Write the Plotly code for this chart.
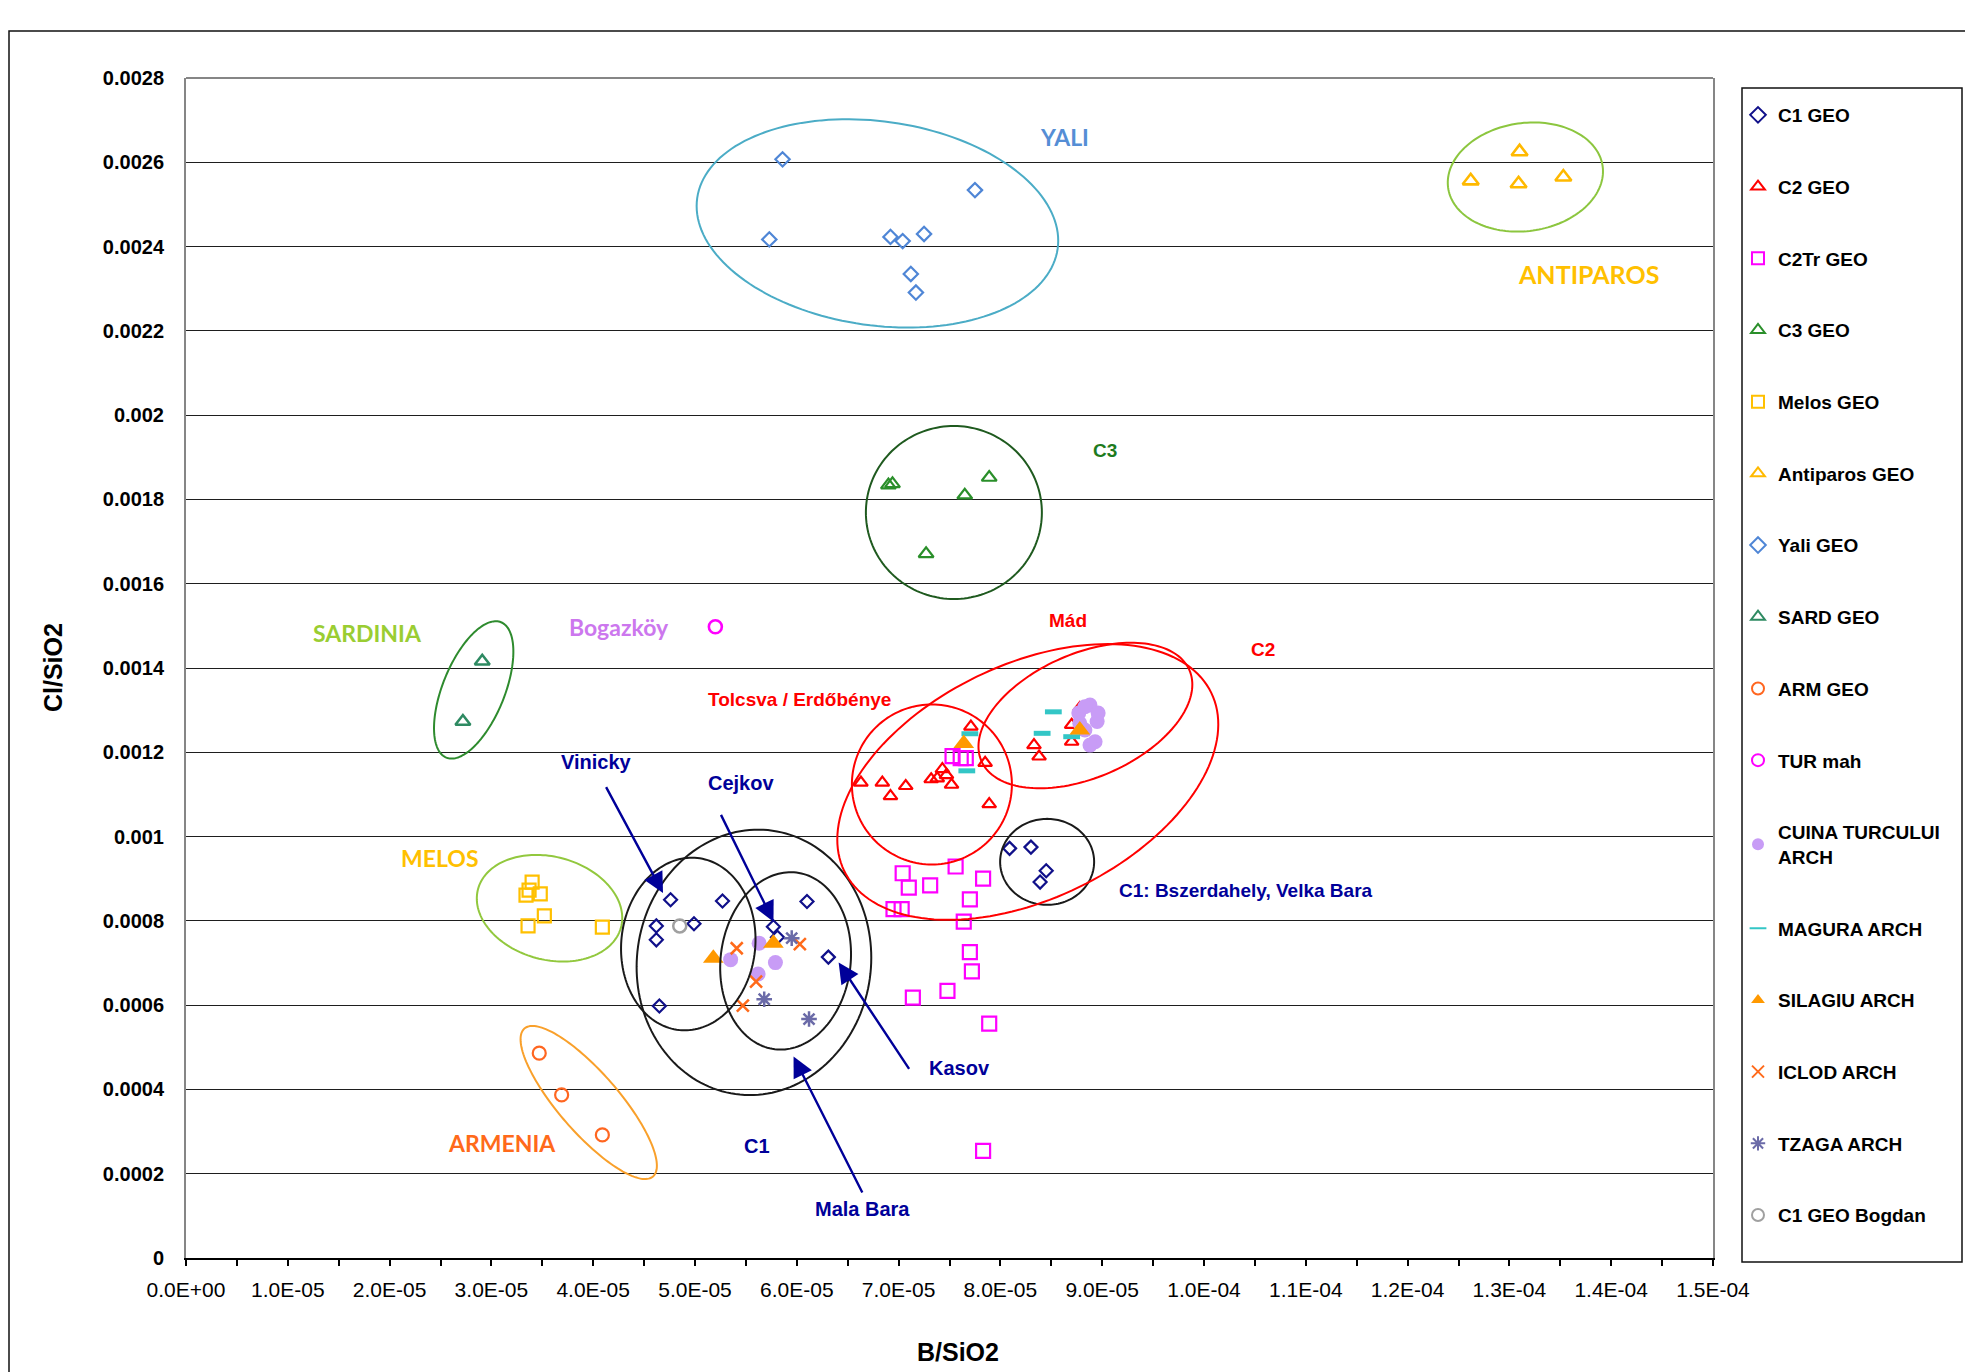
import numpy as np
import plotly.graph_objects as go

# ---------------------------------------------------------------- data
C1_GEO_X = [4.76e-5, 5.27e-5, 6.10e-5, 4.62e-5, 4.99e-5, 4.62e-5, 5.77e-5, 5.81e-5,
            6.31e-5, 4.65e-5, 8.09e-5, 8.30e-5, 8.45e-5, 8.39e-5]
C1_GEO_Y = [0.000850, 0.000847, 0.000846, 0.000788, 0.000793, 0.000755, 0.000786, 0.000761,
            0.000714, 0.000598, 0.000972, 0.000975, 0.000919, 0.000892]

C2_GEO_X = [7.71e-5, 7.85e-5, 6.63e-5, 6.84e-5, 6.92e-5, 7.07e-5, 7.32e-5, 7.38e-5, 7.43e-5,
            7.47e-5, 7.52e-5, 7.89e-5, 8.33e-5, 8.38e-5, 8.70e-5, 8.70e-5, 8.78e-5]
C2_GEO_Y = [0.001261, 0.001175, 0.001128, 0.001128, 0.001096, 0.001120, 0.001136, 0.001138,
            0.001160, 0.001146, 0.001123, 0.001077, 0.001217, 0.001190, 0.001265, 0.001225,
            0.001305]

C2TR_GEO_X = [7.04e-5, 7.10e-5, 7.31e-5, 7.56e-5, 7.83e-5, 7.70e-5, 6.95e-5, 7.03e-5, 7.64e-5,
              7.70e-5, 7.72e-5, 7.48e-5, 7.14e-5, 7.89e-5, 7.83e-5, 7.53e-5, 7.61e-5, 7.66e-5]
C2TR_GEO_Y = [0.000913, 0.000879, 0.000884, 0.000929, 0.000900, 0.000851, 0.000828, 0.000828,
              0.000798, 0.000726, 0.000680, 0.000634, 0.000618, 0.000556, 0.000254, 0.001191,
              0.001186, 0.001186]

C3_GEO_X = [6.90e-5, 6.94e-5, 7.65e-5, 7.89e-5, 7.27e-5]
C3_GEO_Y = [0.001834, 0.001837, 0.001810, 0.001852, 0.001671]

MELOS_GEO_X = [3.40e-5, 3.37e-5, 3.34e-5, 3.48e-5, 3.52e-5, 3.36e-5, 4.09e-5]
MELOS_GEO_Y = [0.000892, 0.000873, 0.000861, 0.000864, 0.000812, 0.000788, 0.000785]

ANTIPAROS_GEO_X = [12.62e-5, 13.10e-5, 13.09e-5, 13.53e-5]
ANTIPAROS_GEO_Y = [0.002556, 0.002625, 0.002549, 0.002565]

YALI_GEO_X = [5.86e-5, 5.73e-5, 6.92e-5, 7.04e-5, 7.25e-5, 7.75e-5, 7.12e-5, 7.17e-5]
YALI_GEO_Y = [0.002607, 0.002417, 0.002423, 0.002413, 0.002430, 0.002534, 0.002335, 0.002291]

SARD_GEO_X = [2.91e-5, 2.72e-5]
SARD_GEO_Y = [0.001416, 0.001273]

ARM_GEO_X = [3.47e-5, 3.69e-5, 4.09e-5]
ARM_GEO_Y = [0.000486, 0.000387, 0.000292]

TUR_MAH_X = [5.20e-5]
TUR_MAH_Y = [0.001498]

CUINA_X = [5.35e-5, 5.63e-5, 5.79e-5, 5.62e-5, 8.88e-5, 8.77e-5, 8.95e-5, 8.83e-5, 8.78e-5,
           8.93e-5, 8.88e-5, 8.96e-5, 8.83e-5]
CUINA_Y = [0.000708, 0.000747, 0.000701, 0.000674, 0.001312, 0.001293, 0.001273, 0.001253,
           0.001269, 0.001225, 0.001217, 0.001293, 0.001308]

MAGURA_X = [7.70e-5, 7.67e-5, 8.52e-5, 8.41e-5, 8.70e-5]
MAGURA_Y = [0.001244, 0.001156, 0.001296, 0.001245, 0.001237]

SILAGIU_X = [5.18e-5, 5.77e-5, 7.64e-5, 8.78e-5]
SILAGIU_Y = [0.000711, 0.000747, 0.001221, 0.001253]

ICLOD_X = [5.41e-5, 6.03e-5, 5.60e-5, 5.47e-5]
ICLOD_Y = [0.000735, 0.000745, 0.000656, 0.000599]

TZAGA_X = [5.95e-5, 5.68e-5, 6.12e-5]
TZAGA_Y = [0.000759, 0.000614, 0.000567]

BOGDAN_X = [4.85e-5]
BOGDAN_Y = [0.000788]

X_TICK_VALUES = [i * 1e-5 for i in range(16)]
X_TICK_LABELS = ["0.0E+00", "1.0E-05", "2.0E-05", "3.0E-05", "4.0E-05", "5.0E-05",
                 "6.0E-05", "7.0E-05", "8.0E-05", "9.0E-05", "1.0E-04", "1.1E-04",
                 "1.2E-04", "1.3E-04", "1.4E-04", "1.5E-04"]
Y_TICK_VALUES = [i * 0.0002 for i in range(15)]
Y_TICK_LABELS = ["0", "0.0002", "0.0004", "0.0006", "0.0008", "0.001", "0.0012", "0.0014",
                 "0.0016", "0.0018", "0.002", "0.0022", "0.0024", "0.0026", "0.0028"]

# ---------------------------------------------------------------- geometry
W, H = 1965, 1372
M_L, M_R, M_T, M_B = 186, 252, 78, 114
X_MAX, Y_MAX = 1.5e-4, 0.0028
PLOT_W = W - M_L - M_R
PLOT_H = H - M_T - M_B
PX_X = PLOT_W / X_MAX
PX_Y = PLOT_H / Y_MAX

ARIAL = "Liberation Sans, Arial, sans-serif"
CALIBRI = "Lato, Carlito, Calibri, sans-serif"
NAVY = "#000099"


def ellipse_path(cx, cy, a_px, b_px, angle_deg, n=160):
    """Closed SVG path (data coordinates) of an ellipse whose semi-axes are
    given in screen pixels and rotated counter-clockwise by angle_deg."""
    t = np.linspace(0, 2 * np.pi, n, endpoint=False)
    th = np.radians(angle_deg)
    dx = a_px * np.cos(t) * np.cos(th) - b_px * np.sin(t) * np.sin(th)
    dy = a_px * np.cos(t) * np.sin(th) + b_px * np.sin(t) * np.cos(th)
    xs = cx + dx / PX_X
    ys = cy + dy / PX_Y
    pts = [f"{x:.11f},{y:.11f}" for x, y in zip(xs, ys)]
    return "M " + " L ".join(pts) + " Z"


fig = go.Figure()


def add_series(name, xs, ys, symbol, color, size, line_width=2.2):
    fig.add_trace(go.Scatter(
        x=xs, y=ys, mode="markers", name=f"<b>{name}</b>",
        legendgroup=name,
        marker=dict(symbol=symbol, color=color, size=size,
                    line=dict(color=color, width=line_width)),
        hoverinfo="x+y+name",
    ))


add_series("C1 GEO", C1_GEO_X, C1_GEO_Y, "diamond-open", "#10108A", 10)
add_series("C2 GEO", C2_GEO_X, C2_GEO_Y, "triangle-up-open", "#FF0000", 12)
add_series("C2Tr GEO", C2TR_GEO_X, C2TR_GEO_Y, "square-open", "#FF00FF", 14)
add_series("C3 GEO", C3_GEO_X, C3_GEO_Y, "triangle-up-open", "#2A8F2A", 13)
add_series("Melos GEO", MELOS_GEO_X, MELOS_GEO_Y, "square-open", "#FFC000", 13)
add_series("Antiparos GEO", ANTIPAROS_GEO_X, ANTIPAROS_GEO_Y, "triangle-up-open", "#FFB900", 14, 2.6)
add_series("Yali GEO", YALI_GEO_X, YALI_GEO_Y, "diamond-open", "#4F86D6", 11)
add_series("SARD GEO", SARD_GEO_X, SARD_GEO_Y, "triangle-up-open", "#2E8A62", 13, 2.6)
add_series("ARM GEO", ARM_GEO_X, ARM_GEO_Y, "circle-open", "#FF6620", 13)
add_series("TUR mah", TUR_MAH_X, TUR_MAH_Y, "circle-open", "#FF00FF", 13, 2.6)
add_series("CUINA TURCULUI<br>ARCH", CUINA_X, CUINA_Y, "circle", "#C89CF6", 15, 0)
add_series("MAGURA ARCH", MAGURA_X, MAGURA_Y, "line-ew-open", "#33C6C6", 12, 5)
add_series("SILAGIU ARCH", SILAGIU_X, SILAGIU_Y, "triangle-up", "#FF9900", 18, 0)
add_series("ICLOD ARCH", ICLOD_X, ICLOD_Y, "x-thin-open", "#FF6A1A", 12, 2.5)
add_series("TZAGA ARCH", TZAGA_X, TZAGA_Y, "asterisk-open", "#6B6BA8", 13, 2.5)
add_series("C1 GEO Bogdan", BOGDAN_X, BOGDAN_Y, "circle-open", "#A0A0A0", 13, 2.5)

# ---------------------------------------------------------------- group outlines
ELLIPSES = [
    # centre x, centre y, semi-axis a (px), semi-axis b (px), rotation (deg), colour
    (6.792e-5, 0.002455, 182, 102, -8, "#4BACC6"),    # Yali
    (13.157e-5, 0.002565, 78, 54, 8, "#8CC63F"),      # Antiparos
    (7.543e-5, 0.001769, 88, 86.5, 0, "#1F5A1F"),     # C3
    (2.826e-5, 0.001348, 73, 31, 68, "#2E8B2E"),      # Sardinia
    (3.571e-5, 0.000830, 74, 51.5, -15, "#92C83E"),   # Melos
    (3.956e-5, 0.000369, 98, 30, -49, "#F9A02B"),     # Armenia
    (4.934e-5, 0.000745, 67, 86.5, -6, "#1A1A1A"),    # Vinicky
    (5.579e-5, 0.0007015, 117, 133, -8, "#1A1A1A"),   # C1
    (5.890e-5, 0.000705, 65, 89, -7, "#1A1A1A"),      # Cejkov / Mala Bara
    (8.459e-5, 0.000940, 47, 43, 0, "#1A1A1A"),       # Bszerdahely, Velka Bara
    (7.327e-5, 0.0011237, 80, 80, 0, "#FF0000"),      # Tolcsva / Erdobenye
    (8.835e-5, 0.0012872, 113.5, 62, 23.6, "#FF0000"),  # Mad
    (8.269e-5, 0.0011296, 204, 117, 25.9, "#FF0000"),   # C2
]

shapes = []
for cx, cy, a, b, ang, col in ELLIPSES:
    shapes.append(dict(type="path", xref="x", yref="y",
                       path=ellipse_path(cx, cy, a, b, ang),
                       line=dict(color=col, width=2), layer="above"))

# plot-area top edge, legend frame and outer chart frame
shapes.append(dict(type="line", xref="paper", yref="paper", x0=0, x1=1, y0=1, y1=1,
                   line=dict(color="#868686", width=2)))


def px_to_paper_x(px):
    return (px - M_L) / PLOT_W


def px_to_paper_y(py):
    return (H - M_B - py) / PLOT_H


shapes.append(dict(type="rect", xref="paper", yref="paper",
                   x0=px_to_paper_x(1742), x1=px_to_paper_x(1962),
                   y0=px_to_paper_y(1262), y1=px_to_paper_y(88),
                   line=dict(color="#111111", width=1.5)))
shapes.append(dict(type="rect", xref="paper", yref="paper",
                   x0=px_to_paper_x(9), x1=px_to_paper_x(1990),
                   y0=px_to_paper_y(1400), y1=px_to_paper_y(31),
                   line=dict(color="#111111", width=1.5)))

# ---------------------------------------------------------------- labels and arrows
LABELS = [
    ("YALI", 8.633e-5, 0.002660, "#558ED5", CALIBRI, 23),
    ("ANTIPAROS", 13.78e-5, 0.002336, "#FFC000", CALIBRI, 25),
    ("C3", 9.03e-5, 0.001917, "#1E7B1E", ARIAL, 19),
    ("SARDINIA", 1.784e-5, 0.001483, "#9ACD32", CALIBRI, 23),
    ("Bogazköy", 4.25e-5, 0.001498, "#CC77EE", CALIBRI, 23),
    ("Tolcsva / Erdőbénye", 6.03e-5, 0.001326, "#FF0000", ARIAL, 19),
    ("Mád", 8.66e-5, 0.001513, "#FF0000", ARIAL, 19),
    ("C2", 10.58e-5, 0.001445, "#FF0000", ARIAL, 19),
    ("Vinicky", 4.036e-5, 0.001176, NAVY, ARIAL, 20),
    ("Cejkov", 5.453e-5, 0.001127, NAVY, ARIAL, 20),
    ("MELOS", 2.497e-5, 0.000949, "#FFC000", CALIBRI, 23),
    ("C1: Bszerdahely, Velka Bara", 10.41e-5, 0.000871, NAVY, ARIAL, 19),
    ("Kasov", 7.6e-5, 0.000452, NAVY, ARIAL, 20),
    ("ARMENIA", 3.104e-5, 0.000273, "#FF6A1A", CALIBRI, 23),
    ("C1", 5.611e-5, 0.000265, NAVY, ARIAL, 20),
    ("Mala Bara", 6.645e-5, 0.000116, NAVY, ARIAL, 20),
]

# (tip x, tip y, tail x, tail y)
ARROWS = [
    (4.686e-5, 0.000866, 4.119e-5, 0.001121),   # Vinicky
    (5.771e-5, 0.000798, 5.248e-5, 0.001055),   # Cejkov
    (6.411e-5, 0.000701, 7.113e-5, 0.000445),   # Kasov
    (5.968e-5, 0.000478, 6.651e-5, 0.000152),   # Mala Bara
]

annotations = []
for text, x, y, col, fam, size in LABELS:
    annotations.append(dict(x=x, y=y, xref="x", yref="y", text=text, showarrow=False,
                            font=dict(family=fam, size=size, color=col, weight="bold"),
                            xanchor="center", yanchor="middle"))
for tx, ty, sx, sy in ARROWS:
    annotations.append(dict(x=tx, y=ty, ax=sx, ay=sy, xref="x", yref="y",
                            axref="x", ayref="y", text="", showarrow=True,
                            arrowhead=2, arrowsize=1.7, arrowwidth=2.4,
                            arrowcolor=NAVY, standoff=0, startstandoff=0))

annotations.append(dict(x=px_to_paper_x(958), y=px_to_paper_y(1352), xref="paper",
                        yref="paper", text="B/SiO2", showarrow=False,
                        font=dict(family=ARIAL, size=25, color="#000000", weight="bold"),
                        xanchor="center", yanchor="middle"))
annotations.append(dict(x=px_to_paper_x(53), y=px_to_paper_y(668), xref="paper",
                        yref="paper", text="Cl/SiO2", showarrow=False, textangle=-90,
                        font=dict(family=ARIAL, size=25, color="#000000", weight="bold"),
                        xanchor="center", yanchor="middle"))

# ---------------------------------------------------------------- layout
fig.update_layout(
    width=W, height=H,
    margin=dict(l=M_L, r=M_R, t=M_T, b=M_B, autoexpand=False),
    paper_bgcolor="#FFFFFF", plot_bgcolor="#FFFFFF",
    showlegend=True,
    legend=dict(
        x=px_to_paper_x(1738), y=px_to_paper_y(96), xanchor="left", yanchor="top",
        traceorder="grouped", tracegroupgap=44, itemsizing="constant",
        bgcolor="rgba(0,0,0,0)", borderwidth=0, maxheight=1372,
        font=dict(family=ARIAL, size=19, color="#000000"),
    ),
    xaxis=dict(
        range=[0, X_MAX], tickmode="array", tickvals=X_TICK_VALUES, ticktext=X_TICK_LABELS,
        showgrid=False, zeroline=False, showline=True, linecolor="#000000", linewidth=2,
        ticks="outside", ticklen=6, tickwidth=1.5, tickcolor="#000000",
        minor=dict(tickmode="linear", tick0=0, dtick=5e-6, ticks="outside", ticklen=6,
                   tickwidth=1.5, tickcolor="#000000", showgrid=False),
        tickfont=dict(family=ARIAL, size=21, color="#000000"),
        ticklabelstandoff=6,
    ),
    yaxis=dict(
        range=[0, Y_MAX], tickmode="array", tickvals=Y_TICK_VALUES, ticktext=Y_TICK_LABELS,
        showgrid=True, gridcolor="#1E1E1E", gridwidth=1.4, zeroline=False,
        showline=True, linecolor="#868686", linewidth=2, mirror=True, ticks="",
        tickfont=dict(family=ARIAL, size=20, color="#000000", weight="bold"),
        ticklabelstandoff=16,
    ),
    shapes=shapes,
    annotations=annotations,
)

fig.write_html("out.html")
